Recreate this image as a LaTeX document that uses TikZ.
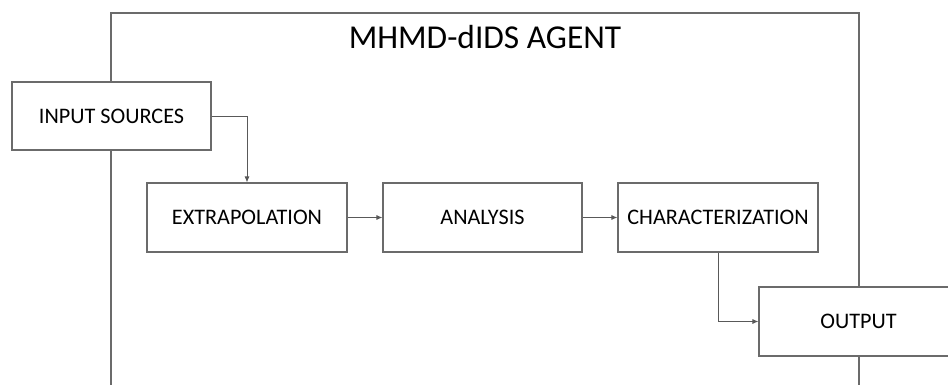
\documentclass[tikz,border=0pt]{standalone}
\usepackage{fontspec}
\setmainfont{Carlito}
\usetikzlibrary{arrows.meta}
\begin{document}
\begin{tikzpicture}[x=1pt,y=-1pt,
  line/.style={draw=black!58,line width=1.1pt},
  stage/.style={line,fill=white,inner sep=0pt,minimum width=200pt,minimum height=69pt,
    font=\fontsize{22.2}{24}\selectfont,text=black},
  flow/.style={draw=black!65,line width=0.9pt,-{Latex[length=6pt,width=5pt]}}]
  \useasboundingbox (0,0) rectangle (948,385);
  \clip (0,0) rectangle (948,385);
  % agent frame (open at the bottom of the page)
  \draw[line] (111,400) -- (111,13) -- (859,13) -- (859,400);
  \node[font=\fontsize{33.4}{36}\selectfont,text=black] (title) at (485,37) {MHMD-dIDS AGENT};
  % stages
  \node[stage,minimum width=199pt,minimum height=68pt] (input) at (111.5,116) {INPUT SOURCES};
  \node[stage] (extrap) at (247,217.5) {EXTRAPOLATION};
  \node[stage,minimum width=199pt] (analysis) at (482.5,217.5) {ANALYSIS};
  \node[stage] (charac) at (718,217.5) {CHARACTERIZATION};
  \node[stage,minimum width=199pt] (output) at (858.5,321.5) {OUTPUT};
  % connectors
  \draw[flow] (input.east) -| (extrap.north);
  \draw[flow] (extrap.east) -- (analysis.west);
  \draw[flow] (analysis.east) -- (charac.west);
  \draw[flow] (charac.south) |- (output.west);
\end{tikzpicture}
\end{document}
